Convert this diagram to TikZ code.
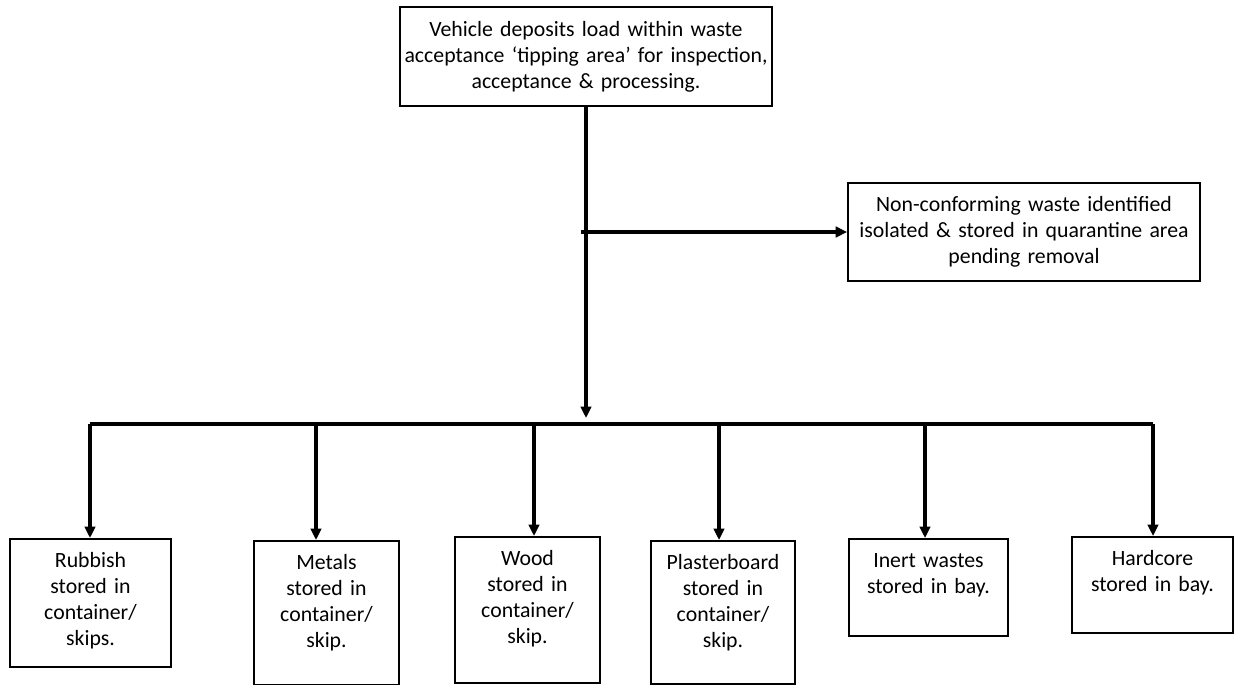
\documentclass[tikz,border=0pt]{standalone}
\usepackage{fontspec}
\setmainfont{Carlito}[WordSpace=0.9]
\usepackage{tikz}
\usetikzlibrary{arrows.meta}
\tikzstyle{box} = [draw, line width=1pt, align=center, inner sep=0.15cm, font=\fontsize{12.4}{14.8}\selectfont]
\tikzstyle{leaf} = [box, anchor=north, text height=0.42cm]
\tikzstyle{arrow} = [line width=1.9pt, -{Triangle[length=2.3mm,width=2.1mm]}]
\tikzstyle{bar} = [line width=1.9pt]

\begin{document}
\begin{tikzpicture}[x=0.02cm, y=-0.02cm]
\useasboundingbox (0,0) rectangle (1234,684);

% Arrival and quarantine
\node[box, inner xsep=0.04cm, text width=7.36cm, minimum height=1.98cm] (load) at (586,56.5) {Vehicle deposits load within waste\\ acceptance ‘tipping area’ for inspection,\\ acceptance \& processing.};
\node[box, text width=6.74cm, minimum height=1.96cm] (quarantine) at (1024,232) {Non-conforming waste identified\\ isolated \& stored in quarantine area\\ pending removal};

% Storage boxes
\node[leaf, text width=2.92cm, text depth=1.84cm] (rubbish) at (90.5,538) {Rubbish\\ stored in\\ container/\\ skips.};
\node[leaf, text width=2.6cm, text depth=2.16cm] (metals) at (326.5,540) {Metals\\ stored in\\ container/\\ skip.};
\node[leaf, text width=2.6cm, text depth=2.2cm] (wood) at (527.5,536) {Wood\\ stored in\\ container/\\ skip.};
\node[leaf, text width=2.58cm, text depth=2.14cm] (plaster) at (723,540) {Plasterboard\\ stored in\\ container/\\ skip.};
\node[leaf, text width=2.88cm, text depth=1.22cm] (inert) at (928.5,538) {Inert wastes\\ stored in bay.};
\node[leaf, text width=2.92cm, text depth=1.2cm] (hardcore) at (1152.5,536) {Hardcore\\ stored in bay.};

% Main line and quarantine branch
\coordinate (busL) at (90,424);
\coordinate (busR) at (1153,424);
\draw[arrow] (load.south) -- ([yshift=0.12cm]load.south |- busL);
\draw[arrow] ([xshift=-0.1cm]load.south |- quarantine.west) -- (quarantine.west);

% Distribution bar
\draw[bar] (busL) -- (busR);
\coordinate (dropMetals) at (316,424);
\coordinate (dropWood) at (534,424);
\coordinate (dropPlaster) at (719,424);
\coordinate (dropInert) at (925,424);
\draw[arrow] (busL) -- (busL |- rubbish.north);
\draw[arrow] (dropMetals) -- (dropMetals |- metals.north);
\draw[arrow] (dropWood) -- (dropWood |- wood.north);
\draw[arrow] (dropPlaster) -- (dropPlaster |- plaster.north);
\draw[arrow] (dropInert) -- (dropInert |- inert.north);
\draw[arrow] (busR) -- (busR |- hardcore.north);
\end{tikzpicture}
\end{document}
